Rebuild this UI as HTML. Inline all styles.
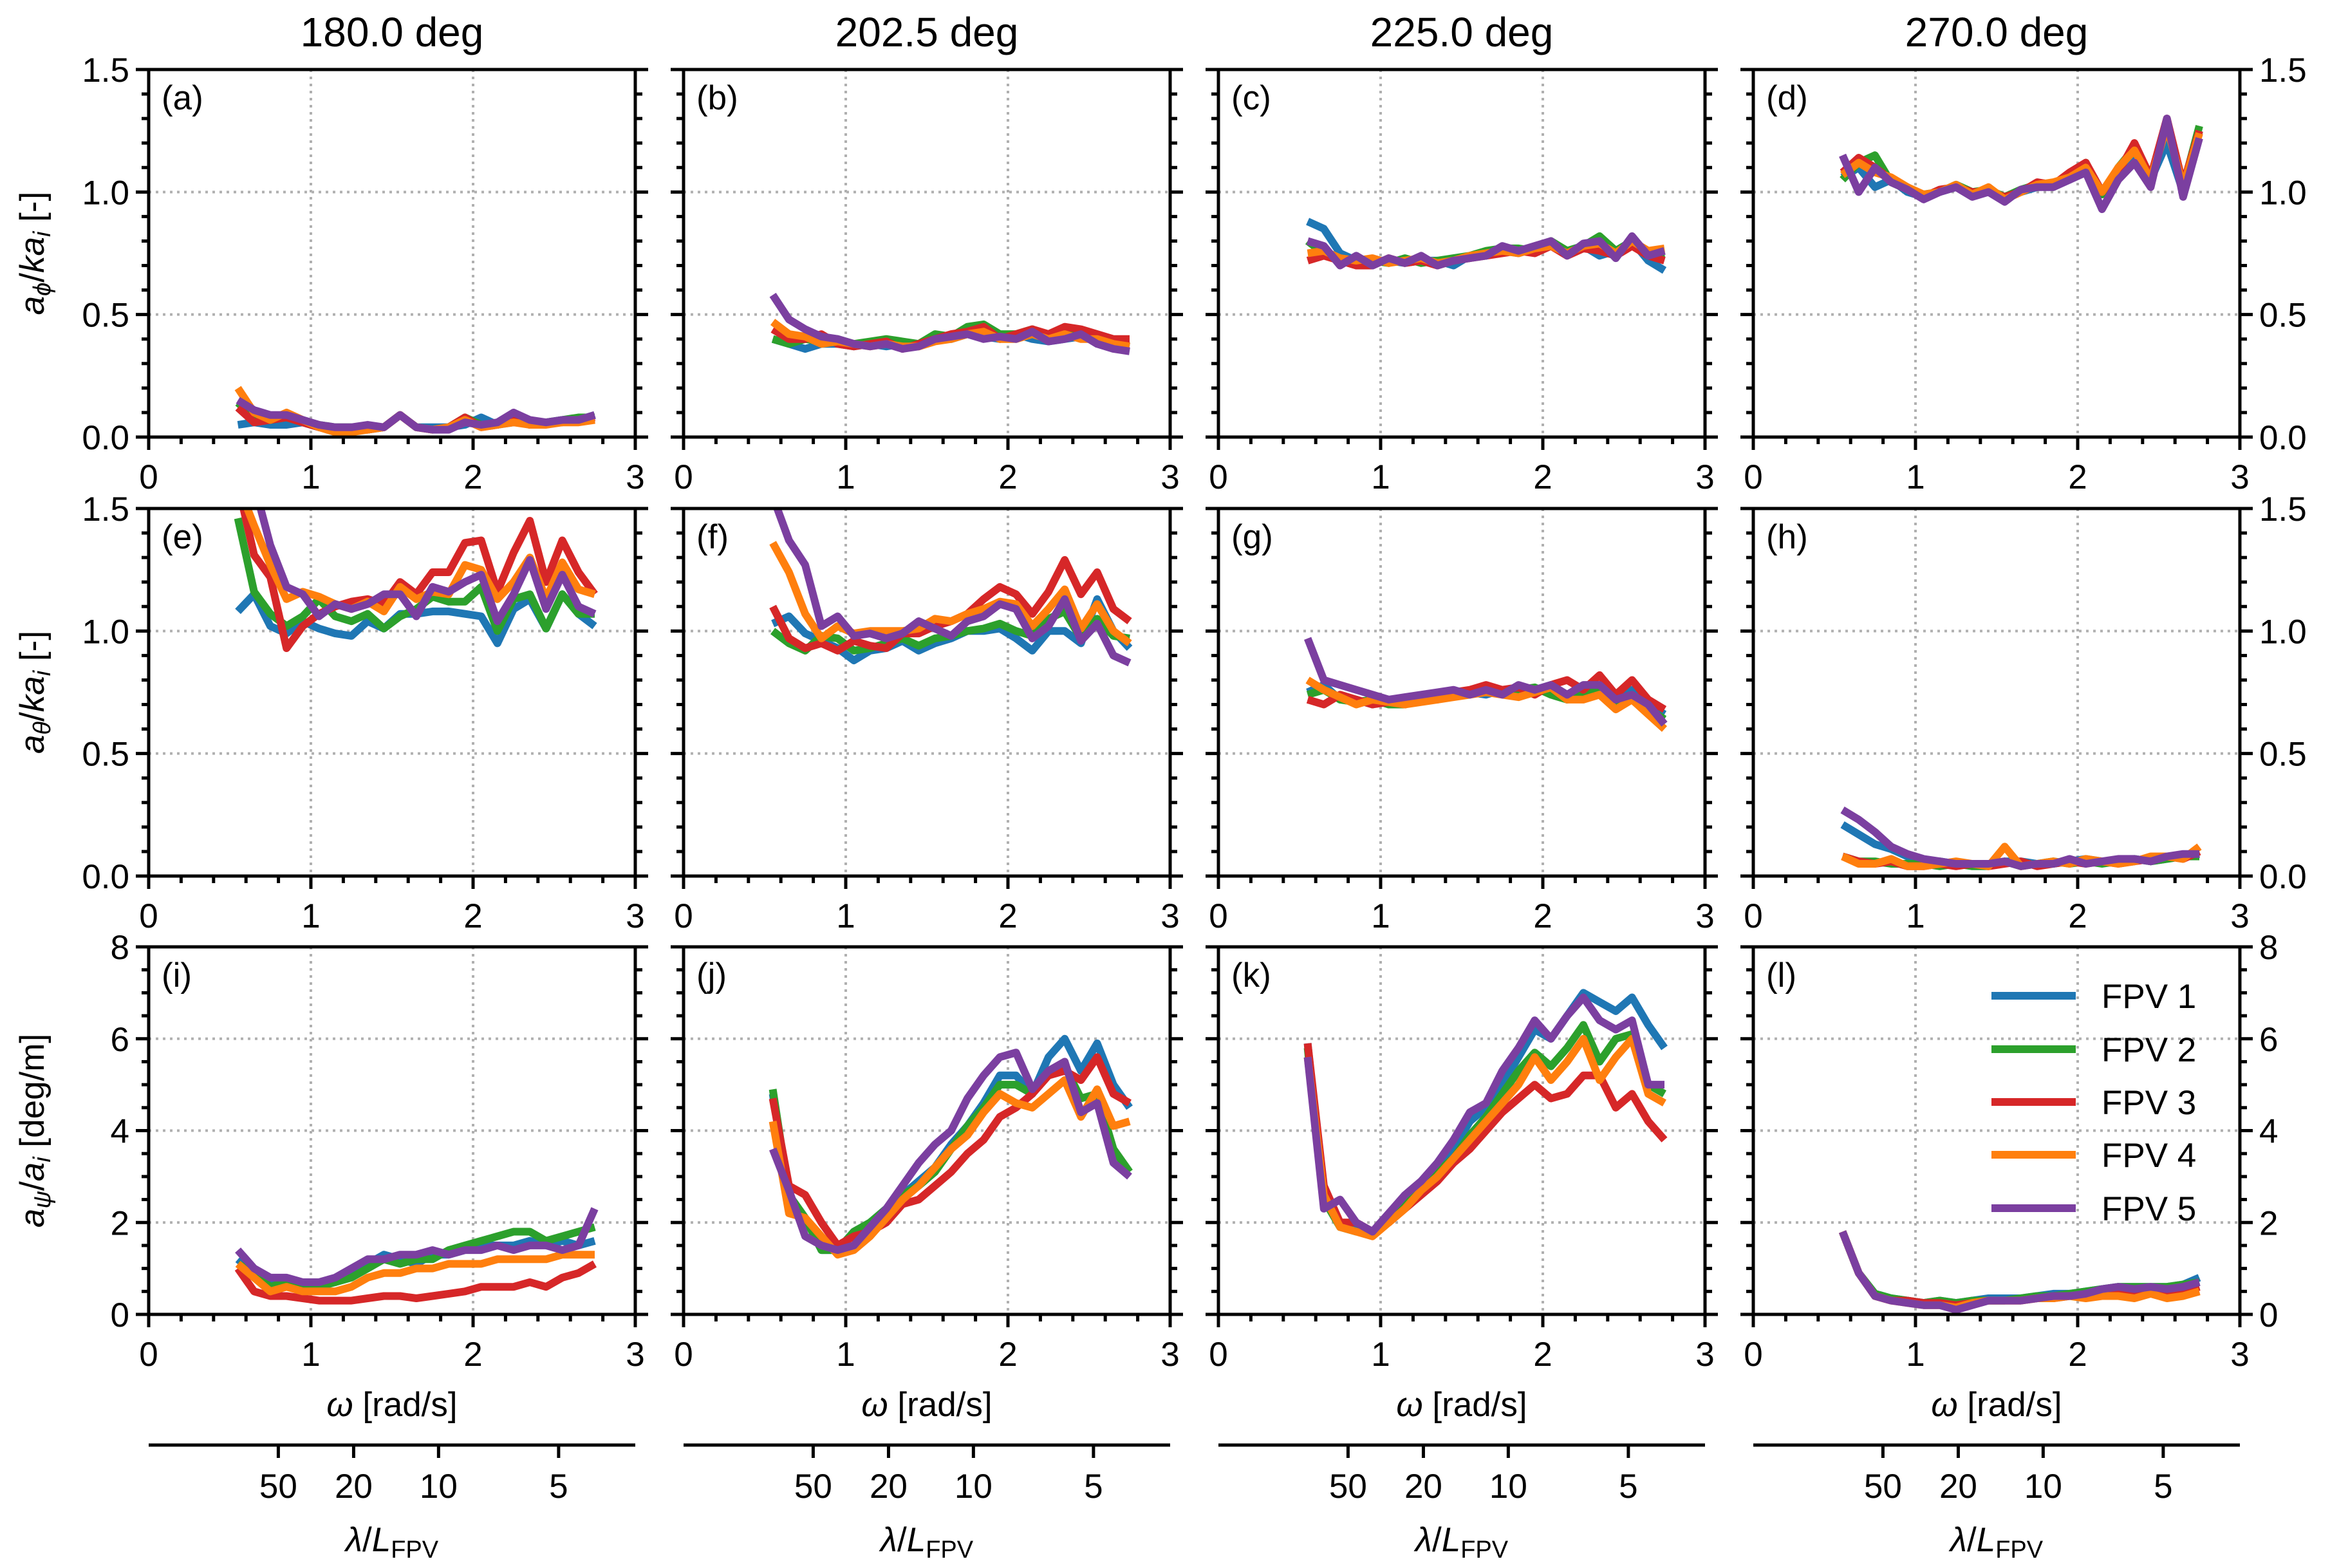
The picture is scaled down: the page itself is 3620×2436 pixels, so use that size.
<!DOCTYPE html>
<html><head><meta charset="utf-8"><style>
html,body{margin:0;padding:0;background:#fff;}
svg{display:block;font-family:"Liberation Sans",Arial,sans-serif;}
</style></head><body>
<svg id="fig" width="3620" height="2436" viewBox="0 0 3620 2436" xmlns="http://www.w3.org/2000/svg"></svg>
<script>
const omegaGrid = [0.55,0.65,0.75,0.85,0.95,1.05,1.15,1.25,1.35,1.45,1.55,1.65,1.75,1.85,1.95,2.05,2.15,2.25,2.35,2.45,2.55,2.65,2.75];
const seriesNames = ["FPV 1","FPV 2","FPV 3","FPV 4","FPV 5"];
const columnTitles = ["180.0 deg","202.5 deg","225.0 deg","270.0 deg"];
const panelLetters = ["(a)","(b)","(c)","(d)","(e)","(f)","(g)","(h)","(i)","(j)","(k)","(l)"];
const xTicks = [0,1,2,3];
const yTicksRow12 = [0,0.5,1.0,1.5];
const yTickLabelsRow12 = ["0.0","0.5","1.0","1.5"];
const yTicksRow3 = [0,2,4,6,8];
const yTickLabelsRow3 = ["0","2","4","6","8"];
const lambdaTicks = [50,20,10,5];
const lambdaTickLabels = ["50","20","10","5"];
// panel a
const pa1=[.05,.06,.05,.05,.06,.04,.03,.03,.03,.04,.09,.04,.04,.04,.05,.08,.05,.06,.06,.06,.07,.07,.09];
const pa2=[.14,.08,.07,.08,.06,.05,.04,.04,.03,.04,.09,.04,.03,.04,.08,.05,.05,.07,.05,.06,.07,.08,.08];
const pa3=[.12,.06,.07,.08,.06,.04,.03,.03,.03,.04,.09,.04,.03,.04,.08,.04,.05,.07,.05,.06,.06,.07,.08];
const pa4=[.2,.1,.07,.1,.07,.04,.02,.02,.03,.04,.09,.04,.03,.04,.07,.04,.05,.06,.05,.05,.06,.06,.07];
const pa5=[.15,.11,.09,.09,.07,.05,.04,.04,.05,.04,.09,.04,.03,.03,.06,.05,.06,.10,.07,.06,.07,.07,.09];
// panel b
const pb1=[.40,.38,.36,.38,.38,.37,.38,.37,.38,.38,.40,.40,.42,.41,.40,.42,.40,.39,.40,.41,.39,.38,.37];
const pb2=[.40,.38,.40,.39,.40,.38,.39,.40,.39,.38,.42,.41,.45,.46,.42,.42,.44,.41,.44,.42,.40,.39,.39];
const pb3=[.44,.40,.40,.42,.38,.37,.38,.39,.36,.38,.40,.42,.43,.45,.40,.42,.44,.42,.45,.44,.42,.40,.40];
const pb4=[.47,.42,.41,.38,.39,.38,.37,.38,.37,.37,.39,.40,.42,.43,.40,.40,.42,.40,.42,.40,.40,.38,.37];
const pb5=[.58,.48,.44,.41,.40,.38,.37,.38,.36,.37,.40,.41,.42,.40,.41,.40,.43,.39,.40,.42,.38,.36,.35];
// panel c
const pc1=[.88,.85,.75,.72,.72,.72,.71,.72,.72,.70,.74,.74,.76,.75,.77,.78,.76,.78,.74,.76,.80,.72,.68];
const pc2=[.80,.75,.73,.71,.72,.71,.73,.71,.72,.73,.74,.76,.77,.77,.76,.80,.76,.78,.82,.76,.80,.74,.75];
const pc3=[.72,.74,.72,.70,.70,.73,.71,.72,.70,.72,.73,.74,.75,.76,.75,.78,.74,.77,.76,.74,.78,.74,.72];
const pc4=[.75,.76,.73,.72,.73,.71,.72,.73,.71,.72,.74,.75,.76,.75,.77,.78,.75,.78,.79,.75,.80,.76,.77];
const pc5=[.80,.78,.70,.74,.70,.73,.71,.74,.70,.72,.73,.74,.78,.76,.78,.80,.74,.79,.80,.73,.82,.74,.76];
// panel d
const pd1=[1.06,1.10,1.02,1.05,1.0,0.98,1.00,1.02,0.99,1.00,0.97,1.00,1.02,1.03,1.05,1.10,1.00,1.08,1.15,1.05,1.20,1.00,1.25];
const pd2=[1.05,1.12,1.15,1.04,1.01,0.99,1.00,1.03,1.00,1.01,0.98,1.01,1.03,1.02,1.06,1.12,0.99,1.10,1.18,1.04,1.28,1.02,1.27];
const pd3=[1.08,1.14,1.10,1.05,1.02,0.98,1.01,1.02,1.00,1.00,0.98,1.00,1.04,1.03,1.08,1.12,1.00,1.08,1.20,1.06,1.30,1.03,1.25];
const pd4=[1.07,1.12,1.08,1.06,1.02,0.99,1.00,1.03,0.99,1.02,0.97,1.00,1.03,1.04,1.06,1.10,1.00,1.10,1.17,1.05,1.27,1.02,1.24];
const pd5=[1.15,1.00,1.10,1.04,1.01,0.97,1.00,1.02,0.98,1.00,0.96,1.01,1.02,1.02,1.05,1.08,0.93,1.05,1.12,1.02,1.30,0.98,1.22];
// panel e
const pe1=[1.08,1.15,1.02,0.99,1.04,1.01,0.99,0.98,1.04,1.01,1.07,1.07,1.08,1.08,1.07,1.06,0.95,1.09,1.13,1.01,1.15,1.07,1.02];
const pe2=[1.46,1.16,1.07,1.02,1.06,1.13,1.06,1.04,1.07,1.01,1.06,1.09,1.14,1.12,1.12,1.18,1.00,1.13,1.15,1.01,1.15,1.07,1.07];
const pe3=[1.6,1.31,1.22,0.93,1.02,1.07,1.10,1.12,1.13,1.11,1.20,1.15,1.24,1.24,1.36,1.37,1.16,1.32,1.45,1.20,1.37,1.24,1.15];
const pe4=[1.6,1.43,1.27,1.13,1.16,1.14,1.11,1.09,1.12,1.08,1.18,1.13,1.16,1.15,1.27,1.25,1.13,1.20,1.30,1.13,1.28,1.17,1.15];
const pe5=[1.7,1.6,1.35,1.18,1.15,1.06,1.11,1.09,1.11,1.15,1.15,1.06,1.18,1.16,1.20,1.23,1.04,1.15,1.29,1.09,1.23,1.10,1.07];
// panel f
const pf1=[1.03,1.06,0.99,0.96,0.93,0.88,0.92,0.93,0.96,0.92,0.95,0.97,1.0,1.0,1.01,0.97,0.92,1.0,1.0,0.95,1.13,1.0,0.93];
const pf2=[1.0,0.95,0.92,0.98,0.97,0.92,0.93,0.95,0.97,0.94,0.97,0.98,1.0,1.01,1.03,1.0,0.98,1.05,1.08,0.97,1.05,0.98,0.97];
const pf3=[1.1,0.97,0.93,0.95,0.92,0.96,0.94,0.93,0.99,0.99,1.02,1.04,1.07,1.13,1.18,1.15,1.07,1.16,1.29,1.15,1.24,1.09,1.04];
const pf4=[1.36,1.24,1.07,0.97,1.02,0.99,1.0,1.0,1.0,1.01,1.05,1.04,1.07,1.09,1.12,1.11,1.02,1.09,1.17,1.01,1.11,1.0,0.95];
const pf5=[1.55,1.37,1.27,1.02,1.06,0.98,0.99,0.97,0.99,1.04,1.01,0.98,1.04,1.06,1.11,1.09,0.97,1.02,1.13,0.96,1.03,0.90,0.87];
// panel g
const pg1=[.75,.78,.72,.72,.70,.72,.71,.73,.72,.74,.75,.74,.76,.74,.76,.78,.72,.74,.78,.72,.76,.70,.66];
const pg2=[.74,.76,.72,.71,.72,.70,.70,.72,.73,.75,.74,.76,.75,.76,.77,.74,.72,.74,.76,.70,.72,.68,.64];
const pg3=[.72,.70,.74,.72,.70,.71,.70,.72,.74,.75,.76,.78,.76,.77,.74,.78,.80,.76,.82,.74,.80,.72,.68];
const pg4=[.80,.76,.73,.70,.72,.71,.70,.71,.72,.73,.74,.75,.74,.73,.75,.77,.72,.72,.74,.68,.72,.66,.60];
const pg5=[.97,.80,.78,.76,.74,.72,.73,.74,.75,.76,.74,.76,.74,.78,.76,.78,.74,.78,.78,.72,.74,.70,.62];
// panel h
const ph1=[.21,.17,.13,.11,.08,.06,.06,.05,.05,.05,.06,.06,.05,.05,.06,.07,.06,.06,.07,.06,.07,.08,.09];
const ph2=[.08,.06,.06,.05,.05,.05,.04,.05,.04,.04,.06,.04,.05,.06,.05,.06,.05,.06,.07,.06,.07,.08,.08];
const ph3=[.08,.06,.05,.06,.04,.04,.05,.04,.05,.04,.05,.06,.04,.05,.06,.05,.06,.05,.06,.07,.08,.07,.10];
const ph4=[.08,.05,.05,.07,.04,.04,.05,.06,.05,.04,.12,.04,.05,.06,.05,.07,.06,.05,.06,.08,.08,.07,.12];
const ph5=[.27,.23,.18,.12,.09,.07,.06,.05,.05,.05,.06,.04,.05,.05,.07,.05,.06,.07,.07,.06,.08,.09,.09];
// panel i
const pi1=[1.2,0.9,0.7,0.7,0.6,0.65,0.7,0.9,1.1,1.3,1.2,1.1,1.3,1.3,1.4,1.5,1.5,1.5,1.6,1.5,1.6,1.5,1.6];
const pi2=[1.1,0.9,0.6,0.7,0.6,0.6,0.7,0.8,1.0,1.2,1.1,1.2,1.2,1.4,1.5,1.6,1.7,1.8,1.8,1.6,1.7,1.8,1.9];
const pi3=[1.0,0.5,0.4,0.4,0.35,0.3,0.3,0.3,0.35,0.4,0.4,0.35,0.4,0.45,0.5,0.6,0.6,0.6,0.7,0.6,0.8,0.9,1.1];
const pi4=[1.1,0.8,0.5,0.6,0.5,0.5,0.5,0.6,0.8,0.9,0.9,1.0,1.0,1.1,1.1,1.1,1.2,1.2,1.2,1.2,1.3,1.3,1.3];
const pi5=[1.4,1.0,0.8,0.8,0.7,0.7,0.8,1.0,1.2,1.2,1.3,1.3,1.4,1.3,1.4,1.4,1.5,1.4,1.5,1.5,1.4,1.5,2.3];
// panel j
const pj1=[4.8,2.6,2.1,1.4,1.4,1.8,2.0,2.3,2.6,2.9,3.2,3.7,4.1,4.6,5.2,5.2,4.8,5.6,6.0,5.3,5.9,5.0,4.5];
const pj2=[4.9,2.6,2.1,1.4,1.4,1.8,2.0,2.3,2.6,2.8,3.1,3.6,4.1,4.5,5.0,5.0,4.8,5.3,5.4,4.7,4.8,3.6,3.1];
const pj3=[4.7,2.8,2.6,2.0,1.5,1.7,1.8,2.0,2.4,2.5,2.8,3.1,3.5,3.8,4.3,4.5,4.8,5.2,5.3,5.1,5.6,4.8,4.6];
const pj4=[4.2,2.2,2.1,1.7,1.3,1.4,1.7,2.1,2.5,2.8,3.2,3.6,3.9,4.4,4.8,4.6,4.5,4.8,5.1,4.3,4.9,4.1,4.2];
const pj5=[3.6,2.7,1.7,1.5,1.4,1.5,1.9,2.3,2.8,3.3,3.7,4.0,4.7,5.2,5.6,5.7,4.9,5.3,5.5,4.4,4.6,3.3,3.0];
// panel k
const pk1=[5.9,2.5,2.0,1.9,1.8,2.1,2.5,2.8,3.2,3.6,4.2,4.5,5.0,5.6,6.2,6.0,6.5,7.0,6.8,6.6,6.9,6.3,5.8];
const pk2=[5.8,2.5,1.9,1.8,1.8,2.0,2.4,2.7,3.1,3.4,3.9,4.3,4.8,5.3,5.7,5.4,5.8,6.3,5.5,6.0,6.1,5.0,4.8];
const pk3=[5.9,2.8,2.0,2.0,1.8,2.0,2.3,2.6,2.9,3.3,3.6,4.0,4.4,4.7,5.0,4.7,4.8,5.2,5.2,4.5,4.8,4.2,3.8];
const pk4=[5.6,2.6,1.9,1.8,1.7,2.0,2.3,2.7,3.0,3.4,3.8,4.2,4.6,5.0,5.6,5.1,5.5,6.0,5.1,5.6,6.0,4.8,4.6];
const pk5=[5.6,2.3,2.5,2.0,1.8,2.2,2.6,2.9,3.3,3.8,4.4,4.6,5.3,5.8,6.4,6.0,6.5,6.9,6.4,6.2,6.4,5.0,5.0];
// panel l
const pl1=[1.8,0.9,0.45,0.35,0.3,0.25,0.3,0.25,0.3,0.35,0.35,0.35,0.4,0.45,0.45,0.5,0.55,0.6,0.6,0.6,0.6,0.65,0.8];
const pl2=[1.8,0.9,0.45,0.35,0.3,0.25,0.3,0.25,0.3,0.3,0.3,0.35,0.4,0.4,0.45,0.5,0.55,0.6,0.6,0.6,0.6,0.65,0.7];
const pl3=[1.8,0.9,0.4,0.3,0.3,0.25,0.25,0.2,0.25,0.3,0.3,0.3,0.35,0.35,0.4,0.4,0.5,0.5,0.45,0.5,0.5,0.5,0.6];
const pl4=[1.8,0.9,0.4,0.3,0.25,0.2,0.2,0.15,0.25,0.3,0.3,0.3,0.35,0.35,0.4,0.35,0.4,0.4,0.35,0.45,0.35,0.4,0.5];
const pl5=[1.8,0.9,0.4,0.3,0.25,0.2,0.2,0.1,0.2,0.3,0.3,0.3,0.35,0.4,0.4,0.45,0.55,0.6,0.55,0.6,0.55,0.6,0.7];

const panelData = [[pa1,pa2,pa3,pa4,pa5],[pb1,pb2,pb3,pb4,pb5],[pc1,pc2,pc3,pc4,pc5],[pd1,pd2,pd3,pd4,pd5],
 [pe1,pe2,pe3,pe4,pe5],[pf1,pf2,pf3,pf4,pf5],[pg1,pg2,pg3,pg4,pg5],[ph1,ph2,ph3,ph4,ph5],
 [pi1,pi2,pi3,pi4,pi5],[pj1,pj2,pj3,pj4,pj5],[pk1,pk2,pk3,pk4,pk5],[pl1,pl2,pl3,pl4,pl5]];

const colors = ["#1f77b4","#2ca02c","#d62728","#ff7f0e","#7b3fa0"];
const colLeft = [231,1062,1893,2724], PW = 756;
const rowTop = [108,790,1471], PH = 571;
const LFPV = 1.93;
const NS = "http://www.w3.org/2000/svg";
const svg = document.getElementById("fig");
function mk(tag, attrs, parent){const e=document.createElementNS(NS,tag);for(const k in attrs)e.setAttribute(k,attrs[k]);(parent||svg).appendChild(e);return e;}
const defs = mk("defs",{});

for (let r=0;r<3;r++){
  const ymax = r<2?1.5:8, yTicks = r<2?yTicksRow12:yTicksRow3, yLab = r<2?yTickLabelsRow12:yTickLabelsRow3;
  const yMinorStep = r<2?0.1:0.5;
  for (let c=0;c<4;c++){
    const idx=r*4+c, L=colLeft[c], T=rowTop[r], R=L+PW, B=T+PH;
    const xs = v=>L+v/3*PW, ys = v=>B-v/ymax*PH;
    const g = mk("g",{});
    
    
    for (const t of xTicks) if(t>0&&t<3){const l=mk("line",{x1:xs(t),x2:xs(t),y1:T,y2:B,stroke:"#b0b0b0","stroke-width":4,"stroke-dasharray":"4,7"},g);}
    for (const t of yTicks) if(t>0&&t<ymax){const l=mk("line",{x1:L,x2:R,y1:ys(t),y2:ys(t),stroke:"#b0b0b0","stroke-width":4,"stroke-dasharray":"4,7"},g);}
    const cp = mk("clipPath",{id:"clip"+idx},defs); mk("rect",{x:L,y:T,width:PW,height:PH},cp);
    const lg = mk("g",{"clip-path":"url(#clip"+idx+")"},g);
    panelData[idx].forEach((arr,si)=>{
      const pts = arr.map((v,i)=>xs(omegaGrid[i]).toFixed(1)+","+ys(v).toFixed(1)).join(" ");
      const pl = mk("polyline",{points:pts,fill:"none",stroke:colors[si],"stroke-width":12,"stroke-linejoin":"round","stroke-linecap":"butt"},lg);
      
      
    });
    for (let v=0; v<=3.0001; v+=0.2){ const maj=Math.abs(v-Math.round(v))<1e-6; mk("line",{x1:xs(v),x2:xs(v),y1:B,y2:B+(maj?20:11),stroke:"#000","stroke-width":5},g);}
    for (let v=0; v<=ymax+1e-6; v+=yMinorStep){ const maj=yTicks.some(t=>Math.abs(t-v)<1e-6); const len=maj?20:11;
      mk("line",{x1:L-len,x2:L,y1:ys(v),y2:ys(v),stroke:"#000","stroke-width":5},g);
      mk("line",{x1:R,x2:R+len,y1:ys(v),y2:ys(v),stroke:"#000","stroke-width":5},g);}
    mk("rect",{x:L,y:T,width:PW,height:PH,fill:"none",stroke:"#000","stroke-width":5},g);
    xTicks.forEach(t=>{const tx=mk("text",{x:xs(t),y:B+80,"font-size":53,"text-anchor":"middle"},g);tx.textContent=t;});
    yTicks.forEach((t,i)=>{
      if(c===0){const tx=mk("text",{x:L-30,y:ys(t)+19,"font-size":53,"text-anchor":"end"},g);tx.textContent=yLab[i];}
      if(c===3){const t2=mk("text",{x:R+30,y:ys(t)+19,"font-size":53,"text-anchor":"start"},g);t2.textContent=yLab[i];}
    });
    const pt=mk("text",{x:L+20,y:T+62,"font-size":53},g);pt.textContent=panelLetters[idx];
    
    
    if(r===0){const tt=mk("text",{x:L+PW/2,y:72,"font-size":64,"text-anchor":"middle"},g);tt.textContent=columnTitles[c];
      
      }
    if(r===2){
      const xl=mk("text",{x:L+PW/2,y:2200,"font-size":53,"text-anchor":"middle"},g);
      xl.innerHTML='<tspan font-style="italic">ω</tspan> [rad/s]';
      
      
      const al=mk("line",{x1:L,x2:R,y1:2245,y2:2245,stroke:"#000","stroke-width":5},g);
      
      
      lambdaTicks.forEach((lv,i)=>{
        const w=Math.sqrt(2*Math.PI*9.81/(lv*LFPV));
        mk("line",{x1:xs(w),x2:xs(w),y1:2245,y2:2265,stroke:"#000","stroke-width":5},g);
        const tx=mk("text",{x:xs(w),y:2327,"font-size":53,"text-anchor":"middle"},g);tx.textContent=lambdaTickLabels[i];
        
        
      });
      const ll=mk("text",{x:L+PW/2,y:2410,"font-size":53,"text-anchor":"middle"},g);
      ll.innerHTML='<tspan font-style="italic">λ</tspan>/<tspan font-style="italic">L</tspan><tspan font-size="38" dy="10">FPV</tspan>';
      
      
    }
  }
}
const yTitles = [
 '<tspan font-style="italic">a</tspan><tspan font-style="italic" font-size="38" dy="10">ϕ</tspan><tspan dy="-10">/</tspan><tspan font-style="italic">ka</tspan><tspan font-style="italic" font-size="38" dy="10">i</tspan><tspan dy="-10"> [-]</tspan>',
 '<tspan font-style="italic">a</tspan><tspan font-style="italic" font-size="38" dy="10">θ</tspan><tspan dy="-10">/</tspan><tspan font-style="italic">ka</tspan><tspan font-style="italic" font-size="38" dy="10">i</tspan><tspan dy="-10"> [-]</tspan>',
 '<tspan font-style="italic">a</tspan><tspan font-style="italic" font-size="38" dy="10">ψ</tspan><tspan dy="-10">/</tspan><tspan font-style="italic">a</tspan><tspan font-style="italic" font-size="38" dy="10">i</tspan><tspan dy="-10"> [deg/m]</tspan>'];
yTitles.forEach((h,r)=>{
  const cy=rowTop[r]+PH/2;
  const t=mk("text",{x:0,y:0,"font-size":53,"text-anchor":"middle",transform:`translate(68,${cy}) rotate(-90)`});
  t.innerHTML=h;
  
  
});
const lg=mk("g",{});


const legendY=[1547,1630,1712,1794,1877];
seriesNames.forEach((n,i)=>{
  const e=mk("g",{},lg);
  
  
  mk("line",{x1:3094,x2:3225,y1:legendY[i],y2:legendY[i],stroke:colors[i],"stroke-width":12},e);
  const t=mk("text",{x:3265,y:legendY[i]+19,"font-size":53},e);t.textContent=n;
});
</script>
</body></html>
